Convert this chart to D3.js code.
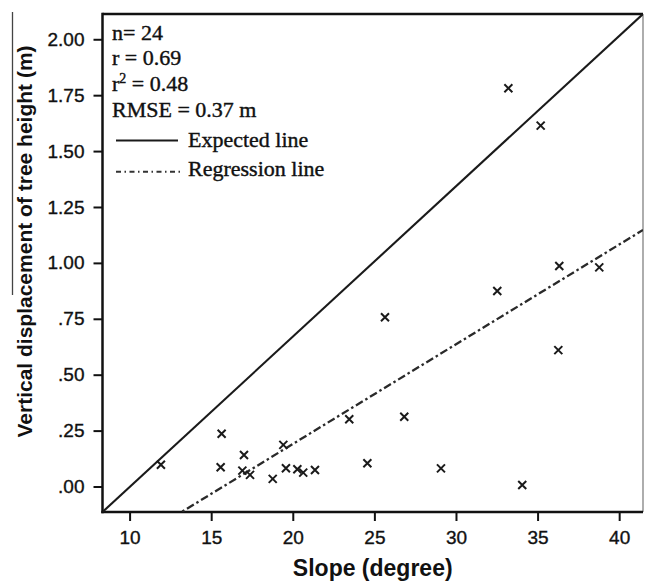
<!DOCTYPE html>
<html>
<head>
<meta charset="utf-8">
<script src="https://cdn.jsdelivr.net/npm/d3@7"></script>
<style>
  html, body { margin: 0; padding: 0; background: #fff; }
  svg { display: block; }
</style>
</head>
<body>
<script>
// ---- Data ----
const slopeDeg = [11.92, 15.64, 15.58, 17.01, 16.91, 17.38, 18.77, 19.42, 19.58, 20.28, 20.64, 21.36,
                  23.46, 24.57, 25.65, 26.83, 29.08, 32.53, 33.21, 34.06, 35.19, 36.27, 36.33, 38.78];
const displacement = [0.097, 0.236, 0.086, 0.141, 0.071, 0.052, 0.034, 0.186, 0.082, 0.077, 0.062, 0.074,
                      0.301, 0.104, 0.757, 0.312, 0.081, 0.874, 1.781, 0.007, 1.614, 0.610, 0.986, 0.980];
const xTicks = [10, 15, 20, 25, 30, 35, 40];
const yTicks = [0, 0.25, 0.5, 0.75, 1.0, 1.25, 1.5, 1.75, 2.0];
const yTickLabels = [".00", ".25", ".50", ".75", "1.00", "1.25", "1.50", "1.75", "2.00"];
const xDomain = [8.34, 41.46];
const yDomain = [-0.114, 2.113];
const expectedLine = [[8.34, -0.114], [41.46, 2.113]];
const regression = { slope: 0.0446, intercept: -0.702 };
const statLines = ["n= 24", "r = 0.69", "r2", "RMSE = 0.37 m"];
const legendItems = ["Expected line", "Regression line"];

// ---- Layout ----
const W = 645, H = 581;
const L = 102.5, R = 643, T = 14, B = 512;

const svg = d3.select("body").append("svg").attr("width", W).attr("height", H);

const x = d3.scaleLinear().domain(xDomain).range([L, R]);
const y = d3.scaleLinear().domain(yDomain).range([B, T]);

const tickFont = "'Liberation Sans Narrow', 'Arial Narrow', 'Liberation Sans', Arial, sans-serif";
const titleFont = "'Liberation Sans', Arial, sans-serif";
const serif = "'Liberation Serif', 'Times New Roman', serif";

// clip
svg.append("defs").append("clipPath").attr("id", "plotclip")
  .append("rect").attr("x", L).attr("y", T).attr("width", R - L).attr("height", B - T);

// axes
const yAxis = d3.axisLeft(y).tickValues(yTicks)
  .tickFormat((d, i) => yTickLabels[i]).tickSize(9).tickSizeOuter(0).tickPadding(9);
const gy = svg.append("g").attr("transform", `translate(${L},0)`).call(yAxis);
gy.select(".domain").remove();
gy.selectAll(".tick line").attr("stroke", "#111").attr("stroke-width", 2);
gy.selectAll(".tick text").attr("font-family", tickFont).attr("font-size", 19).attr("fill", "#111")
  .attr("stroke", "#111").attr("stroke-width", 0.35);

const xAxis = d3.axisBottom(x).tickValues(xTicks).tickSize(9).tickSizeOuter(0).tickPadding(10);
const gx = svg.append("g").attr("transform", `translate(0,${B})`).call(xAxis);
gx.select(".domain").remove();
gx.selectAll(".tick line").attr("stroke", "#111").attr("stroke-width", 2);
gx.selectAll(".tick text").attr("font-family", tickFont).attr("font-size", 19).attr("fill", "#111")
  .attr("stroke", "#111").attr("stroke-width", 0.35);

// frame
svg.append("line").attr("x1", L).attr("x2", R).attr("y1", T).attr("y2", T)
  .attr("stroke", "#111").attr("stroke-width", 2.5);
svg.append("line").attr("x1", R).attr("x2", R).attr("y1", T).attr("y2", B)
  .attr("stroke", "#777").attr("stroke-width", 1.2);
svg.append("line").attr("x1", L).attr("x2", L).attr("y1", T - 1.2).attr("y2", B + 1.2)
  .attr("stroke", "#111").attr("stroke-width", 2.5);
svg.append("line").attr("x1", L - 1.2).attr("x2", R).attr("y1", B).attr("y2", B)
  .attr("stroke", "#111").attr("stroke-width", 2.5);

const plot = svg.append("g").attr("clip-path", "url(#plotclip)");

// expected line
plot.append("path")
  .attr("d", d3.line().x(d => x(d[0])).y(d => y(d[1]))(expectedLine))
  .attr("fill", "none").attr("stroke", "#1a1a1a").attr("stroke-width", 2.1);

// regression line
const regPts = xDomain.map(v => [v, regression.slope * v + regression.intercept]);
plot.append("path")
  .attr("d", d3.line().x(d => x(d[0])).y(d => y(d[1]))(regPts))
  .attr("fill", "none").attr("stroke", "#2a2a2a").attr("stroke-width", 2.3)
  .attr("stroke-dasharray", "8,3,2.5,3");

// points (x markers)
const pts = slopeDeg.map((s, i) => ({ s, d: displacement[i] }));
const m = 4;
plot.selectAll("path.pt").data(pts).join("path").attr("class", "pt")
  .attr("d", p => {
    const cx = x(p.s), cy = y(p.d);
    return `M${cx - m},${cy - m}L${cx + m},${cy + m}M${cx - m},${cy + m}L${cx + m},${cy - m}`;
  })
  .attr("stroke", "#1a1a1a").attr("stroke-width", 2).attr("fill", "none");

// stats text
const statY = [39.5, 64.5, 90.5, 116.7];
statLines.forEach((t, i) => {
  const tx = svg.append("text").attr("x", 112).attr("y", statY[i])
    .attr("font-family", serif).attr("font-size", 22).attr("fill", "#111")
    .attr("stroke", "#111").attr("stroke-width", 0.4);
  if (t === "r2") {
    tx.append("tspan").text("r");
    tx.append("tspan").attr("font-size", 14).attr("dy", -8).text("2");
    tx.append("tspan").attr("dy", 8).text(" = 0.48");
  } else {
    tx.text(t);
  }
});

// legend
const legY = [140.5, 171.7];
const legTextY = [146.7, 175.5];
svg.append("line").attr("x1", 116).attr("x2", 178).attr("y1", legY[0]).attr("y2", legY[0])
  .attr("stroke", "#1a1a1a").attr("stroke-width", 2);
svg.append("line").attr("x1", 116).attr("x2", 181).attr("y1", legY[1]).attr("y2", legY[1])
  .attr("stroke", "#333").attr("stroke-width", 2).attr("stroke-dasharray", "5,3.5,1.5,3.5");
legendItems.forEach((t, i) => {
  svg.append("text").attr("x", 188).attr("y", legTextY[i])
    .attr("font-family", serif).attr("font-size", 22).attr("fill", "#111")
    .attr("stroke", "#111").attr("stroke-width", 0.4).text(t);
});

// axis titles
svg.append("text").attr("x", (L + R) / 2).attr("y", 576)
  .attr("text-anchor", "middle").attr("font-family", titleFont).attr("font-weight", "bold")
  .attr("font-size", 23).attr("fill", "#111").text("Slope (degree)");

svg.append("text").attr("transform", "translate(32,241.5) rotate(-90)")
  .attr("text-anchor", "middle").attr("font-family", titleFont).attr("font-weight", "bold")
  .attr("font-size", 21).attr("fill", "#111").text("Vertical displacement of tree height (m)");

// scan artifact line at the left
svg.append("line").attr("x1", 12.5).attr("x2", 12.5).attr("y1", 12).attr("y2", 295)
  .attr("stroke", "#444").attr("stroke-width", 1.3);
</script>
</body>
</html>
